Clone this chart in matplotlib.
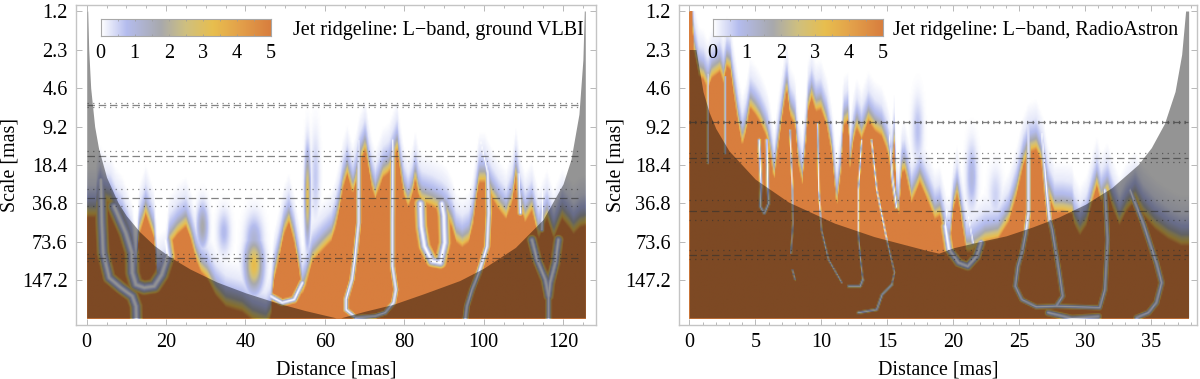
import matplotlib
matplotlib.use("Agg")
import matplotlib.pyplot as plt
import numpy as np
from matplotlib.colors import LinearSegmentedColormap

plt.rcParams["font.family"] = ["Liberation Serif", "DejaVu Serif"]

W, H = 1200, 379

# y axis is in octaves of the wavelet scale, the labels are the scales
scale_ticks = [0, 1, 2, 3, 4, 5, 6, 7]
scale_labels = ["1.2", "2.3", "4.6", "9.2", "18.4", "36.8", "73.6", "147.2"]

cbar_vals = [0, 0.75, 1.75, 2.5, 3.3, 4.1, 5]
cbar_cols = ["#FFFFFF", "#B4BCEE", "#A8A9AD", "#CFC07F", "#E8BE4E", "#E3A04A", "#D87E3E"]

# field value against the height above the solid orange top, in octaves
ramp_dy = [0, 0.11, 0.3, 0.5, 0.85, 1.35]
ramp_val = [5, 3.3, 1.8, 0.8, 0.25, 0]

# ---- left panel: ground VLBI
edge_x_l = [0, 1, 2.1, 2.6, 3.2, 4.2, 5.9, 7.1, 8.8, 10.1, 11.3, 12.2, 13.0, 14.7, 15.96, 16.8, 17.6,
            19.7, 20.6, 22.7, 24.8, 26, 27.3, 28.6, 30.2, 32.3, 34.9, 39, 41.6, 45, 46.2, 47, 48.3,
            49.6, 50.8, 52.1, 53.3, 54.2, 55, 56.7, 59.2, 61.5, 62.5, 63.5, 64.4, 65.5, 66.1, 66.9,
            67.75, 68.6, 70.1, 70.9, 71.8, 72.6, 73.5, 74.5, 76, 77.2, 78.1, 78.9, 79.8, 80.9, 81.9,
            82.7, 83.5, 84.4, 86.9, 89.4, 90.7, 91.9, 93, 94.5, 96.2, 97.2, 98, 98.8, 100.2, 102,
            103.7, 105.6, 107.1, 108.1, 109.2, 110.4, 112.1, 113.8, 115.9, 117.6, 119.7, 121.4,
            122.6, 124.3, 125.6]
edge_y_l = [5.38, 5.38, 5.38, 5.0, 4.8, 5.0, 5.08, 5.38, 5.6, 5.95, 6.3, 7.16, 5.86, 5.3, 5.69, 5.95, 7.16,
            6.99, 6.12, 5.82, 5.62, 5.95, 6.47, 6.81, 6.99, 7.42, 7.72, 7.85, 8.07, 8.2, 8.0, 7.07, 6.47,
            5.82, 5.51, 6.03, 6.73, 7.4, 7.2, 6.55, 6.25, 6.0, 5.69, 5.21, 4.65, 4.26, 4.47, 4.78,
            4.47, 4.0, 3.61, 4.13, 4.65, 4.91, 4.65, 4.35, 4.22, 3.87, 3.61, 4.22, 4.82, 5.12, 4.82,
            4.39, 4.82, 5.0, 5.1, 5.25, 5.38, 5.64, 6.03, 6.16, 6.03, 5.6, 5.0, 4.47, 4.47, 4.87,
            5.17, 5.43, 5.0, 4.3, 5.08, 5.51, 5.21, 5.95, 5.43, 5.95, 5.43, 5.64,
            5.82, 5.64, 5.6]

coi_x_l = [0, 0.25, 0.5, 1, 2, 3, 5, 7.9, 10, 13.4, 17, 21, 26, 32.8, 40, 47.9, 55, 62.8, 64, 70, 77.2,
           85, 94, 100, 108, 115, 120, 122, 124, 125, 125.35, 125.6]
coi_y_l = [0, 0, 1.0, 2.0, 3.0, 3.58, 4.32, 4.98, 5.32, 5.74, 6.09, 6.39, 6.70, 7.04, 7.32, 7.58, 7.78,
           7.97, 7.97, 7.8, 7.62, 7.34, 7.0, 6.68, 6.14, 5.41, 4.49, 3.85, 2.68, 1.26, 0, 0]

# (half width in px, distances, octaves) of the nulls between the ridges
lanes_l = [
    (7, [3.35, 3.6, 3.94, 5.45, 8.4, 11.3, 12.2, 12.3], [4.39, 5.51, 6.29, 6.94, 7.2, 7.42, 7.68, 8.02]),
    (8, [6.7, 9.65, 11.2, 11.3, 12.2, 14.3, 16.8, 18.7, 20.2, 19.6], [5.08, 5.77, 6.29, 6.81, 7.12, 7.2, 7.16, 6.86, 6.38, 5.95]),
    (3, [68.4, 68.4, 67.6, 66.7, 65.2, 65.2, 67.2], [3.35, 5.5, 6.29, 6.99, 7.5, 7.77, 7.94]),
    (3, [77, 76.9, 76.9, 77.8, 77.2, 75.1, 72.6, 67.6], [3.35, 5.5, 6.64, 7.25, 7.59, 7.85, 7.94, 7.98]),
    (6.5, [84, 84.2, 85, 86.9, 89, 90.1, 89.9, 89.4], [5.0, 5.6, 6.12, 6.51, 6.55, 6.03, 5.34, 5.0]),
    (3.5, [99.1, 101, 101.2, 100.8, 98.7, 97, 95.7, 95.3], [3.35, 4.22, 5.25, 6.12, 6.81, 7.25, 7.68, 8.02]),
    (3, [108.8, 109.2], [4.22, 5.25]),
    (3, [115, 114.6], [3.78, 5.69]),
    (5.5, [112.1, 113.4, 115.5, 116.3], [5.95, 6.47, 6.99, 7.42]),
    (5.5, [118.8, 118, 116.7, 116.3], [5.95, 6.55, 7.07, 7.42]),
    (3.5, [116.3, 116.3], [7.42, 8.02]),
    (4, [46.2, 49.1, 52.1, 54.2], [7.42, 7.59, 7.51, 7.07]),
]

# isolated maxima: distance, octave, value, half width px, half height px
puffs_l = [
    (29, 5.6, 1.8, 5, 20),
    (42, 6.6, 3.4, 8, 24),
    (42, 6.0, 1.2, 8, 24),
    (34.4, 5.75, 0.8, 6, 20),
    (55.5, 4.82, 3.3, 2.5, 40),
    (57.5, 4.3, 0.6, 4, 40),
]

lines_dot_l = [2.40, 2.50, 3.64, 3.90, 4.62, 5.06, 6.32, 6.49]
lines_dash_l = [2.45, 3.77, 4.86, 6.41]

# ---- right panel: RadioAstron
edge_x_r = [0, 0.2, 0.3, 0.7, 1.06, 1.39, 1.69, 2.32, 2.57, 2.83, 3.08, 3.33, 3.71, 4.0, 4.27, 4.6, 5,
            5.35, 5.73, 5.93, 6.1, 6.41, 6.74, 7.12, 7.37, 7.62, 8, 8.26, 8.56, 8.81, 9.0, 9.27, 9.57,
            9.97, 10.4, 10.8, 11.16, 11.49, 11.67, 12.04, 12.17, 12.42, 12.67, 13.05, 13.56, 14.06,
            14.57, 14.95, 15.33, 15.53, 15.7, 15.88, 16.08, 16.34, 16.84, 17.47, 18.1, 18.6, 19, 19.5,
            19.75, 20, 20.3, 20.76, 21, 21.4, 22.4, 23.4, 24.2, 24.8, 25.3, 25.7, 26.3, 26.8, 27.2,
            27.7, 28.3, 29, 29.2, 29.6, 30.1, 30.6, 30.9, 31.2, 31.7, 32.1, 32.6, 33.1, 33.8, 34.4,
            35.3, 36.3, 37.3, 37.83]
edge_y_r = [0, 0, 1.0, 1.7, 1.79, 2.05, 1.75, 1.58, 1.88, 1.45, 1.53, 2.14, 3.0, 3.52, 3.18, 2.53, 2.7,
            2.9, 3.2, 3.4, 3.7, 4.43, 3.52, 2.57, 2.05, 2.74, 3.0, 4.04, 4.52, 3.52, 2.57, 2.27, 2.62,
            2.57, 3.0, 3.78, 5.13, 4.22, 3.0, 2.87, 4.09, 3.44, 3.05, 3.35, 2.87, 3.13,
            3.26, 3.61, 4.2, 3.44, 5.1, 5.3, 4.22, 4.17, 4.99, 4.48, 4.99, 5.43, 5.34, 6.12,
            6.12, 5.2, 4.78, 5.77, 6.3, 6.3, 6.03, 5.95, 5.51, 4.82, 4.04, 3.7, 3.61, 4.04, 4.82,
            5.25, 5.25, 5.3, 5.6, 5.86, 5.6, 4.9, 4.56, 5, 4.73, 5.17, 5.6, 5.25, 4.95, 5.34,
            5.69, 5.95, 6.12, 6.12]

coi_x_r = [0, 0.5, 1.04, 1.5, 2, 3, 5, 7.5, 11, 14, 18, 18.9, 20, 22, 24, 26, 28, 30, 32, 34, 35, 36,
           36.8, 37.3, 37.6, 37.83]
coi_y_r = [1.0, 1.0, 2.1, 2.63, 3.05, 3.63, 4.37, 4.96, 5.51, 5.86, 6.22, 6.29, 6.15, 5.99, 5.84, 5.61,
           5.35, 5.02, 4.59, 3.99, 3.55, 2.92, 2.09, 1.13, 0, 0]

lanes_r = [
    (3, [25.7, 25.7, 25.5, 25.2, 24.9, 24.7, 25.2, 26.3, 27.8, 28.3, 28, 27.5, 27.3, 27.1, 26.7],
     [2.31, 5.25, 5.77, 6.29, 6.64, 7.16, 7.51, 7.7, 7.68, 7.42, 6.73, 5.69, 5.43, 4.73, 3.18]),
    (3, [27.8, 31.1, 31.5, 31.7, 31.5], [7.68, 7.72, 7.25, 5.95, 4.65]),
    (4, [27.2, 29, 31], [7.85, 8.0, 7.95]),
    (3.5, [33.4, 34.4, 35.4, 35.8, 35.4, 34.8, 33.9], [4.65, 5.52, 6.55, 7.07, 7.59, 7.85, 7.98]),
    (5, [19.4, 19.67, 20.4, 21.1, 21.77, 22.1], [5.6, 6.2, 6.55, 6.64, 6.38, 6.03]),
    (2.5, [19.57, 19.4], [4.9, 5.6]),
    (2.5, [21.1, 21.5], [5.25, 6.03]),
    (2, [5.27, 5.43, 5.36, 5.67, 6.0, 5.93, 5.86], [3.35, 4.56, 5.08, 5.26, 5.0, 4.56, 3.35]),
    (1.2, [7.62, 7.8, 7.84, 7.69], [3.09, 4.65, 5.52, 6.3]),
    (1.2, [7.8, 8.0], [6.73, 6.99]),
    (1.2, [9.72, 9.8, 10, 10.54, 11.55], [2.92, 4.65, 5.69, 6.47, 7.07]),
    (1.2, [13.05, 12.8, 12.8, 12.94, 13.14], [3.35, 4.65, 5.78, 6.38, 6.99]),
    (2, [13.14, 12.94, 12.06], [6.99, 7.16, 7.16]),
    (1.2, [13.8, 14.2, 14.96, 15.54, 15.34], [3.35, 4.65, 5.95, 6.8, 7.12]),
    (2, [15.34, 14.6, 14.2, 12.8], [7.12, 7.38, 7.77, 7.85]),
    (1.2, [1.39, 1.39], [1.62, 3.96]),
    (1.2, [2.7, 2.7], [1.7, 3.7]),
    (2, [15.1, 15.4, 15.7], [3.0, 4.4, 5.1]),
]

puffs_r = [
    (21.4, 4.3, 1.0, 5, 30),
    (17.3, 3.1, 0.7, 5, 30),
    (23.2, 4.8, 0.5, 6, 25),
]

lines_dot_r = [2.85, 2.92, 3.70, 3.93, 4.92, 5.44, 6.22, 6.45]
lines_dash_r = [2.88, 3.82, 5.20, 6.35]

title_l = "Jet ridgeline: L\u2212band, ground VLBI"
title_r = "Jet ridgeline: L\u2212band, RadioAstron"

cmap = LinearSegmentedColormap.from_list("ridge", [(v / 5, c) for v, c in zip(cbar_vals, cbar_cols)])


def build_field(x_end, px_per_x, edge_x, edge_y, lanes, puffs):
    xs = np.linspace(0, x_end, 430)
    ys = np.linspace(0, 8.0, 260)
    gx, gy = np.meshgrid(xs, ys)
    top = np.interp(xs, edge_x, edge_y)
    field = np.interp(top[None, :] - gy, ramp_dy, ramp_val, left=5, right=0)
    for px, py, v, wpx, hpx in puffs:
        bump = v * np.exp(-((gx - px) * px_per_x / wpx) ** 2 - ((gy - py) * 38.5 / hpx) ** 2)
        field = np.maximum(field, bump)
    for w, lx, ly in lanes:
        # distance to the polyline in px, lane goes to 0 on its core
        ax_, ay_ = np.array(lx) * px_per_x, np.array(ly) * 38.5
        qx, qy = gx * px_per_x, gy * 38.5
        d = np.full(gx.shape, 1e9)
        for i in range(len(ax_) - 1):
            dx, dy = ax_[i + 1] - ax_[i], ay_[i + 1] - ay_[i]
            t = ((qx - ax_[i]) * dx + (qy - ay_[i]) * dy) / max(dx * dx + dy * dy, 1e-6)
            t = np.clip(t, 0, 1)
            d = np.minimum(d, np.hypot(qx - ax_[i] - t * dx, qy - ay_[i] - t * dy))
        field = np.minimum(field, 5 * np.clip(d / w, 0, 1) ** 1.6)
    return field


def draw_panel(rect_px, xlim, x_end, px_per_x, edge, lanes, puffs, coi, dots, dashes, line_end,
               xticks, minor, cbar_left, title, title_right, ylab_x):
    left, right = rect_px
    ax = fig.add_axes([left / W, (H - 325) / H, (right - left) / W, 320 / H])
    field = build_field(x_end, px_per_x, edge[0], edge[1], lanes, puffs)
    ax.imshow(field, extent=[0, x_end, 8.0, 0], origin="upper", cmap=cmap, vmin=0, vmax=5,
              aspect="auto", interpolation="bilinear", zorder=1)
    ax.fill_between(coi[0], coi[1], 7.97, color="black", alpha=0.42, lw=0, zorder=2)
    for y in dots:
        ax.plot([0, line_end], [y, y], color="#303030", alpha=0.6, lw=0.9, ls=(0, (1, 3.5)), zorder=3)
    for y in dashes:
        ax.plot([0, line_end], [y, y], color="#303030", alpha=0.6, lw=0.9, ls=(0, (6, 3)), zorder=3)
    ax.set_xlim(*xlim)
    ax.set_ylim(8.156, -0.156)
    ax.set_xticks(xticks)
    ax.set_xticks(minor, minor=True)
    ax.set_yticks(scale_ticks)
    ax.set_yticklabels(scale_labels)
    ax.tick_params(axis="both", which="major", direction="in", length=4, width=0.7, color="#b8b8b8",
                   top=True, right=True, labelsize=14.6, pad=6)
    ax.tick_params(axis="x", which="minor", direction="in", length=2.5, width=0.7, color="#b8b8b8", top=True)
    for s in ax.spines.values():
        s.set_color("#c4c4c4")
        s.set_linewidth(1.0)
    ax.set_xlabel("Distance [mas]", fontsize=14.4, labelpad=6)
    ax.set_ylabel("Scale [mas]", fontsize=14.4)
    ax.yaxis.set_label_coords((ylab_x - left) / (right - left), 0.5)
    fig.text(title_right / W, (H - 31) / H, title, ha="right", va="center", fontsize=14.5)

    cax = fig.add_axes([cbar_left / W, (H - 35.7) / H, 170 / W, 17 / H])
    cax.imshow(np.linspace(0, 5, 256)[None, :], extent=[0, 5, 0, 1], cmap=cmap, vmin=0, vmax=5, aspect="auto")
    cax.set_yticks([])
    cax.set_xticks(range(6))
    cax.set_xticks(np.arange(0.5, 5, 0.5), minor=True)
    cax.tick_params(axis="x", which="both", direction="in", length=1.5, width=0.5, color="#999999",
                    top=True, labelsize=14.6, pad=6)
    for s in cax.spines.values():
        s.set_color("#a8a8a8")
        s.set_linewidth(0.8)


fig = plt.figure(figsize=(W / 100, H / 100), dpi=100)

draw_panel((76, 596), (-2.7, 128.3), 125.6, 3.97, (edge_x_l, edge_y_l), lanes_l, puffs_l,
           (coi_x_l, coi_y_l), lines_dot_l, lines_dash_l, 123.7,
           range(0, 121, 20), range(0, 126, 5), 100.7, title_l, 584, 20)
draw_panel((679.3, 1196.7), (-0.76, 38.44), 37.83, 13.2, (edge_x_r, edge_y_r), lanes_r, puffs_r,
           (coi_x_r, coi_y_r), lines_dot_r, lines_dash_r, 37.8,
           range(0, 36, 5), range(0, 39, 1), 712.7, title_r, 1178, 625)

fig.savefig("out.png", dpi=100)
